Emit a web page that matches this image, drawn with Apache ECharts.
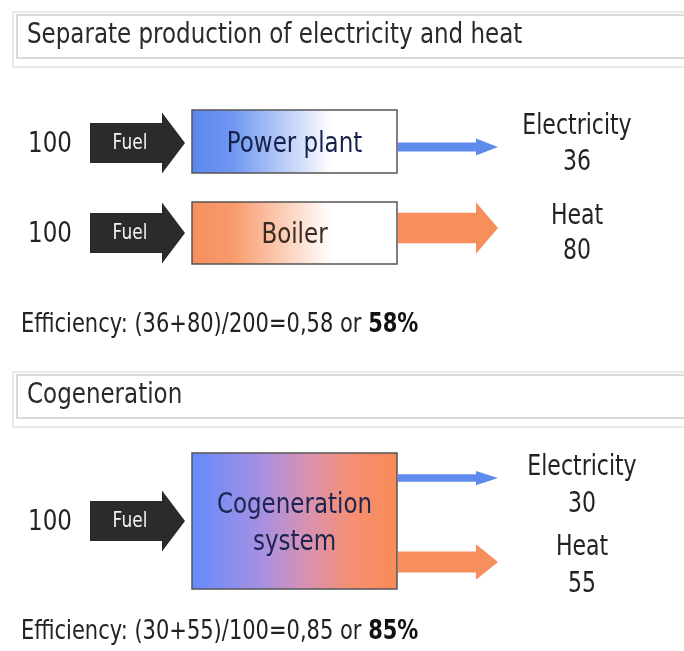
<!DOCTYPE html>
<html>
<head>
<meta charset="utf-8">
<script src="https://cdn.jsdelivr.net/npm/echarts@6/dist/echarts.min.js"></script>
<style>
  html, body { margin: 0; padding: 0; background: #fff; }
  #main { width: 684px; height: 651px; }
</style>
</head>
<body>
<div id="main"></div>
<script>
// data
var sectionTitles = ['Separate production of electricity and heat', 'Cogeneration']
var plantNames = ['Power plant', 'Boiler', 'Cogeneration\nsystem']
var plantSection = [0, 0, 1]
var fuelIn = [100, 100, 100]
var electricityOut = [36, 0, 30]
var heatOut = [0, 80, 55]
var outputNames = ['Electricity', 'Heat']

// layout, in pixels of the 684x651 picture
var FONT = 'DejaVu Sans'
var STRETCH = 1.25 // the source picture is stretched vertically
var sectionTop = [12, 372]
var efficiencyY = [325, 632]
var boxX = [192, 397]
var boxY = [[110, 173], [202, 264], [453, 589]]
var fuelY = [143, 233, 521]
var outY = [[147, 0], [0, 228], [478, 562]]
var nameY = [[127, 0], [0, 217], [468, 548]]
var valueY = [[163, 0], [0, 252], [505, 585]]
var labelX = [577, 577, 582]
var outColors = ['#5f8cec', '#f68f5c']
var outScale = [0.25, 0.38] // body thickness per unit of energy
var headScale = [1.9, 1.7]

var boxFills = [
  new echarts.graphic.LinearGradient(0, 0, 1, 0, [
    { offset: 0, color: '#5a88ef' },
    { offset: 0.2, color: '#6f97f1' },
    { offset: 0.68, color: '#ffffff' },
    { offset: 1, color: '#ffffff' },
  ]),
  new echarts.graphic.LinearGradient(0, 0, 1, 0, [
    { offset: 0, color: '#f68e5c' },
    { offset: 0.2, color: '#f89a6c' },
    { offset: 0.68, color: '#ffffff' },
    { offset: 1, color: '#ffffff' },
  ]),
  new echarts.graphic.LinearGradient(0, 0, 1, 0, [
    { offset: 0, color: '#628cfa' },
    { offset: 0.35, color: '#a990e2' },
    { offset: 0.55, color: '#d692b4' },
    { offset: 0.78, color: '#f68f72' },
    { offset: 1, color: '#f88b58' },
  ]),
]
var boxTextColors = ['#16214a', '#3a2a22', '#1c2550']

function arrowPoints(api, x0, x1, yc, t, h, len) {
  var pts = [
    [x0, yc - t / 2],
    [x1 - len, yc - t / 2],
    [x1 - len, yc - h / 2],
    [x1, yc],
    [x1 - len, yc + h / 2],
    [x1 - len, yc + t / 2],
    [x0, yc + t / 2],
  ]
  return pts.map(function (p) {
    return api.coord(p)
  })
}

function stretchedText(pos, text, size, color, extra) {
  var style = {
    text: text,
    x: 0,
    y: 0,
    fill: color,
    fontFamily: FONT,
    fontSize: size,
    align: 'center',
    verticalAlign: 'middle',
  }
  for (var k in extra) style[k] = extra[k]
  return { type: 'text', x: pos[0], y: pos[1], scaleY: STRETCH, style: style }
}

function renderFuel(params, api) {
  var i = params.dataIndex
  var v = api.value(1)
  var t = v * 0.4
  return {
    type: 'group',
    children: [
      {
        type: 'polygon',
        shape: { points: arrowPoints(api, 90, 185, fuelY[i], t, t * 1.52, 23) },
        style: { fill: '#2b2b2b' },
      },
      stretchedText(api.coord([130, fuelY[i]]), 'Fuel', 17, '#f2f2f2'),
      stretchedText(api.coord([50, fuelY[i] + 2]), String(v), 23, '#222'),
    ],
  }
}

function renderPlant(params, api) {
  var i = params.dataIndex
  var p0 = api.coord([boxX[0], boxY[i][0]])
  var p1 = api.coord([boxX[1], boxY[i][1]])
  return {
    type: 'group',
    children: [
      {
        type: 'rect',
        shape: { x: p0[0], y: p0[1], width: p1[0] - p0[0], height: p1[1] - p0[1] },
        style: { fill: boxFills[i], stroke: '#555', lineWidth: 1.5 },
      },
      stretchedText(
        [(p0[0] + p1[0]) / 2, (p0[1] + p1[1]) / 2 + 3],
        plantNames[i],
        23,
        boxTextColors[i],
        { lineHeight: 29 }
      ),
    ],
  }
}

function renderOutput(params, api) {
  var i = api.value(0)
  var k = api.value(1)
  var v = api.value(2)
  var t = v * outScale[k]
  return {
    type: 'group',
    children: [
      {
        type: 'polygon',
        shape: { points: arrowPoints(api, boxX[1] + 1, 498, outY[i][k], t, t * headScale[k], 22) },
        style: { fill: outColors[k] },
      },
      stretchedText(api.coord([labelX[i], nameY[i][k]]), outputNames[k], 22, '#222'),
      stretchedText(api.coord([labelX[i], valueY[i][k]]), String(v), 22, '#222'),
    ],
  }
}

var outputData = []
plantNames.forEach(function (name, i) {
  if (electricityOut[i] > 0) outputData.push([i, 0, electricityOut[i]])
  if (heatOut[i] > 0) outputData.push([i, 1, heatOut[i]])
})

function efficiencyText(s) {
  var outs = []
  var inSum = 0
  plantNames.forEach(function (name, i) {
    if (plantSection[i] !== s) return
    inSum += fuelIn[i]
    if (electricityOut[i] > 0) outs.push(electricityOut[i])
  })
  plantNames.forEach(function (name, i) {
    if (plantSection[i] === s && heatOut[i] > 0) outs.push(heatOut[i])
  })
  var outSum = outs.reduce(function (a, b) { return a + b }, 0)
  var ratio = outSum / inSum
  return 'Efficiency: (' + outs.join('+') + ')/' + inSum + '=' +
    ratio.toFixed(2).replace('.', ',') + ' or {b|' + Math.round(ratio * 100) + '%}'
}

var graphics = []
sectionTitles.forEach(function (title, s) {
  var top = sectionTop[s]
  graphics.push({
    type: 'rect',
    shape: { x: 13, y: top, width: 700, height: 55 },
    style: { fill: '#fff', stroke: '#e2e2e2', lineWidth: 1.5 },
  })
  graphics.push({
    type: 'rect',
    shape: { x: 17, y: top + 3, width: 700, height: 43 },
    style: { fill: '#fff', stroke: '#cdcdcd', lineWidth: 1.5 },
  })
  graphics.push({
    type: 'text',
    x: 27,
    y: top + 24,
    scaleY: STRETCH,
    style: {
      text: title,
      x: 0,
      y: 0,
      fill: '#2a2a2a',
      fontFamily: FONT,
      fontSize: 23,
      align: 'left',
      verticalAlign: 'middle',
    },
  })
  graphics.push({
    type: 'text',
    x: 21,
    y: efficiencyY[s],
    scaleY: STRETCH,
    style: {
      text: efficiencyText(s),
      x: 0,
      y: 0,
      fill: '#222',
      fontFamily: FONT,
      fontSize: 21,
      align: 'left',
      verticalAlign: 'middle',
      rich: {
        b: { fontFamily: FONT, fontSize: 21, fontWeight: 'bold', fill: '#111' },
      },
    },
  })
})

var myChart = echarts.init(document.getElementById('main'))
var option = {
  animation: false,
  backgroundColor: '#fff',
  grid: { left: 0, right: 0, top: 0, bottom: 0 },
  xAxis: { type: 'value', min: 0, max: 684, show: false },
  yAxis: { type: 'value', min: 0, max: 651, inverse: true, show: false },
  graphic: { elements: graphics },
  series: [
    {
      name: 'fuel',
      type: 'custom',
      silent: true,
      renderItem: renderFuel,
      encode: { x: -1, y: -1 },
      data: fuelIn.map(function (v, i) { return [i, v] }),
    },
    {
      name: 'plants',
      type: 'custom',
      silent: true,
      renderItem: renderPlant,
      encode: { x: -1, y: -1 },
      data: plantNames.map(function (n, i) { return [i, fuelIn[i]] }),
    },
    {
      name: 'outputs',
      type: 'custom',
      silent: true,
      renderItem: renderOutput,
      encode: { x: -1, y: -1 },
      data: outputData,
    },
  ],
}
myChart.setOption(option)
</script>
</body>
</html>
